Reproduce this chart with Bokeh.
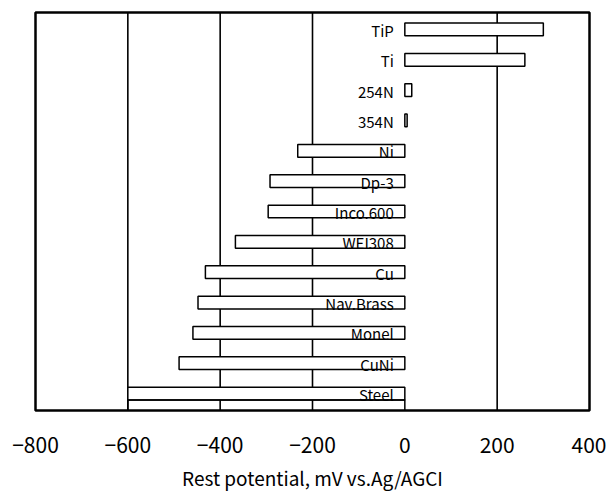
from bokeh.plotting import figure
from bokeh.models import Range1d, FixedTicker, ColumnDataSource
from bokeh.core.properties import value
from bokeh.embed import file_html
from bokeh.resources import INLINE

materials = ["TiP", "Ti", "254N", "354N", "Ni", "Dp-3", "Inco.600", "WEI308",
             "Cu", "Nav.Brass", "Monel", "CuNi", "Steel"]
potentials = [300, 260, 15, 5, -232, -292, -296, -367, -432, -448, -459, -489, -600]
x_ticks = [-800, -600, -400, -200, 0, 200, 400]
tick_labels = ["\u2212800", "\u2212600", "\u2212400", "\u2212200", "0", "200", "400"]
grid_lines = [-600, -400, -200, 200]
x_title = "Rest potential, mV vs.Ag/AGCI"

FONT = "Noto Sans CJK JP"
idx = list(range(len(materials)))
bar_h = 0.42

src = ColumnDataSource(dict(
    mat=materials,
    y=idx,
    left=[min(0, v) for v in potentials],
    right=[max(0, v) for v in potentials],
    lx=[-24] * len(materials),
))

p = figure(width=606, height=493, output_backend="svg", toolbar_location=None,
           x_range=Range1d(-800, 400), y_range=Range1d(12.56, -0.56),
           min_border_left=35, min_border_right=17, min_border_top=12,
           min_border_bottom=73)

p.background_fill_color = "white"
p.border_fill_color = "white"
p.outline_line_color = "black"
p.outline_line_width = 2.5

p.ygrid.visible = False
p.xgrid.visible = False
for g in grid_lines:
    p.segment(x0=[g], y0=[-1], x1=[g], y1=[14], line_color="black", line_width=1.6)

p.hbar(y="y", left="left", right="right", height=bar_h, source=src,
       fill_color="white", line_color="black", line_width=1.5)

# lower outline beneath the Steel bar (cut by the frame)
steel = potentials[-1]
p.quad(left=[steel], right=[0], top=[idx[-1] + bar_h / 2], bottom=[idx[-1] + 0.9],
       fill_alpha=0, line_color="black", line_width=1.5)

p.text(x="lx", y="y", text="mat", source=src, text_align="right",
       text_baseline="middle", text_font=value(FONT), text_font_size="15px",
       text_color="black", y_offset=1)

p.yaxis.visible = False
ax = p.xaxis[0]
ax.ticker = FixedTicker(ticks=x_ticks)
ax.major_label_overrides = {t: l for t, l in zip(x_ticks, tick_labels)}
ax.axis_line_color = None
ax.major_tick_line_color = None
ax.minor_tick_line_color = None
ax.major_label_standoff = 20
ax.major_label_text_font = FONT
ax.major_label_text_font_size = "21px"
ax.major_label_text_color = "black"
ax.axis_label = x_title
ax.axis_label_text_font = FONT
ax.axis_label_text_font_size = "19px"
ax.axis_label_text_font_style = "normal"
ax.axis_label_text_color = "black"
ax.axis_label_standoff = 8

open("out.html", "w").write(file_html(p, INLINE))
